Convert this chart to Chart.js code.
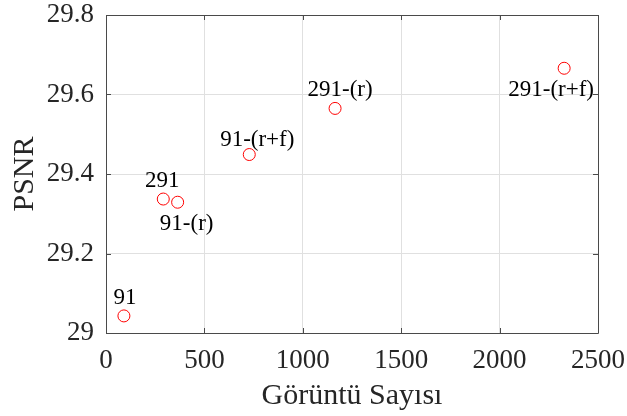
<!DOCTYPE html>
<html>
<head>
<meta charset="utf-8">
<script src="https://cdn.jsdelivr.net/npm/chart.js@4/dist/chart.umd.min.js"></script>
<style>
  html, body { margin: 0; padding: 0; background: #fff; }
  #wrap { width: 627px; height: 416px; }
</style>
</head>
<body>
<div id="wrap"><canvas id="psnrChart" width="627" height="416"></canvas></div>
<script>
// values
const imageCounts = [91, 291, 364, 728, 1164, 2328];
const psnrValues = [29.043, 29.337, 29.329, 29.449, 29.565, 29.666];
const pointNames = ['91', '291', '91-(r)', '91-(r+f)', '291-(r)', '291-(r+f)'];
const xTickValues = [0, 500, 1000, 1500, 2000, 2500];
const yTickValues = [29, 29.2, 29.4, 29.6, 29.8];

// where each name sits relative to its marker (pixels)
const nameOffsets = [[1, -18], [-1, -18], [9, 22], [8, -15], [5, -18], [-13, 22]];

const serif = '"Liberation Serif", "Times New Roman", serif';
const axisColor = '#4a4a4a';
const textColor = '#262626';

// matlab style box with inward ticks, drawn over the grid
const boxFrame = {
  id: 'boxFrame',
  beforeDatasetsDraw(chart) {
    const ctx = chart.ctx;
    const a = chart.chartArea;
    const xs = chart.scales.x;
    const ys = chart.scales.y;
    const tick = 5;
    ctx.save();
    ctx.strokeStyle = axisColor;
    ctx.lineWidth = 1;
    ctx.beginPath();
    ctx.rect(Math.round(a.left) + 0.5, Math.round(a.top) + 0.5,
      Math.round(a.right - a.left), Math.round(a.bottom - a.top));
    xTickValues.forEach((v) => {
      const px = Math.round(xs.getPixelForValue(v)) + 0.5;
      ctx.moveTo(px, a.bottom); ctx.lineTo(px, a.bottom - tick);
      ctx.moveTo(px, a.top); ctx.lineTo(px, a.top + tick);
    });
    yTickValues.forEach((v) => {
      const py = Math.round(ys.getPixelForValue(v)) + 0.5;
      ctx.moveTo(a.left, py); ctx.lineTo(a.left + tick, py);
      ctx.moveTo(a.right, py); ctx.lineTo(a.right - tick, py);
    });
    ctx.stroke();
    ctx.restore();
  }
};

const pointNamesPlugin = {
  id: 'pointNames',
  afterDatasetsDraw(chart) {
    const ctx = chart.ctx;
    const meta = chart.getDatasetMeta(0);
    ctx.save();
    ctx.font = '23px ' + serif;
    ctx.fillStyle = '#000';
    ctx.textAlign = 'center';
    ctx.textBaseline = 'middle';
    meta.data.forEach((pt, i) => {
      const off = nameOffsets[i];
      ctx.fillText(pointNames[i], pt.x + off[0], pt.y + off[1]);
    });
    ctx.restore();
  }
};

new Chart(document.getElementById('psnrChart'), {
  type: 'scatter',
  data: {
    datasets: [{
      label: 'PSNR',
      data: imageCounts.map((x, i) => ({ x: x, y: psnrValues[i] })),
      pointStyle: 'circle',
      pointRadius: 6,
      borderWidth: 1,
      borderColor: '#ff0000',
      backgroundColor: 'rgba(0,0,0,0)'
    }]
  },
  options: {
    responsive: false,
    animation: false,
    devicePixelRatio: 1,
    layout: { padding: { top: 15, right: 29, left: 0, bottom: 0 } },
    plugins: {
      legend: { display: false },
      tooltip: { enabled: false }
    },
    scales: {
      x: {
        type: 'linear',
        min: 0,
        max: 2500,
        afterBuildTicks: (scale) => { scale.ticks = xTickValues.map((v) => ({ value: v })); },
        afterFit: (scale) => {
          scale.height = 83;
          // let the layout padding alone decide the plot edges
          scale.paddingLeft = 0;
          scale.paddingRight = 0;
        },
        grid: { color: '#e0e0e0', drawTicks: false },
        border: { display: false },
        ticks: {
          color: textColor,
          padding: 14,
          maxRotation: 0,
          font: { family: serif, size: 27, lineHeight: 1 },
          callback: (v) => String(v)
        },
        title: {
          display: true,
          text: 'Görüntü Sayısı',
          color: textColor,
          font: { family: serif, size: 30, lineHeight: 1 },
          padding: { top: 0, bottom: 5 }
        }
      },
      y: {
        type: 'linear',
        min: 29,
        max: 29.8,
        afterBuildTicks: (scale) => { scale.ticks = yTickValues.map((v) => ({ value: v })); },
        afterFit: (scale) => {
          scale.width = 106;
          scale.paddingTop = 0;
          scale.paddingBottom = 0;
        },
        grid: { color: '#e0e0e0', drawTicks: false },
        border: { display: false },
        ticks: {
          color: textColor,
          padding: 12,
          font: { family: serif, size: 27, lineHeight: 1 },
          callback: (v) => (Math.round(v * 10) / 10).toString()
        },
        title: {
          display: true,
          text: 'PSNR',
          color: textColor,
          font: { family: serif, size: 30, lineHeight: 1 },
          padding: { top: 10, bottom: 0 }
        }
      }
    }
  },
  plugins: [boxFrame, pointNamesPlugin]
});
</script>
</body>
</html>
